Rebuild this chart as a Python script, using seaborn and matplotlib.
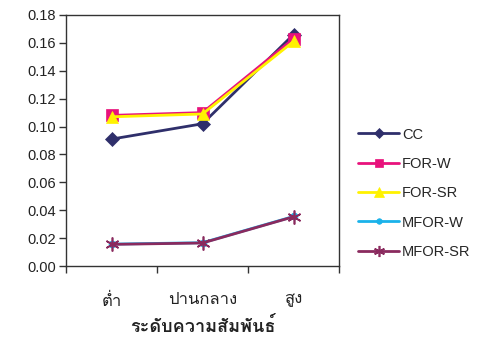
import numpy as np
import pandas as pd
import matplotlib
matplotlib.use("Agg")
import matplotlib.pyplot as plt
from matplotlib import font_manager
from matplotlib.ft2font import FT2Font
from matplotlib.ticker import FixedLocator, NullFormatter
import seaborn as sns

levels = ["ต่ำ", "ปานกลาง", "สูง"]
series_names = ["CC", "FOR-W", "FOR-SR", "MFOR-W", "MFOR-SR"]
cc = [0.091, 0.102, 0.166]
for_w = [0.108, 0.110, 0.163]
for_sr = [0.107, 0.109, 0.161]
mfor_w = [0.0157, 0.0167, 0.0355]
mfor_sr = [0.0155, 0.0165, 0.0353]
yticks = [0.00, 0.02, 0.04, 0.06, 0.08, 0.10, 0.12, 0.14, 0.16, 0.18]
xlabel = "ระดับความสัมพันธ์"

values = [cc, for_w, for_sr, mfor_w, mfor_sr]
df = pd.DataFrame({
    "level": [i for _ in series_names for i in range(len(levels))],
    "value": [v for vals in values for v in vals],
    "series": [s for s in series_names for _ in levels],
})

# pick an installed family that can draw Thai script
def thai_family():
    seen = set()
    for f in font_manager.fontManager.ttflist:
        if f.name in seen:
            continue
        seen.add(f.name)
        try:
            if 0x0E01 in FT2Font(f.fname).get_charmap():
                return f.name
        except Exception:
            pass
    return "DejaVu Sans"

sns.set_theme(style="white")
thai = thai_family()
plt.rcParams["font.family"] = ["Liberation Sans", thai, "DejaVu Sans"]

palette = {"CC": "#2F2F6B", "FOR-W": "#E8127C", "FOR-SR": "#FFF200",
           "MFOR-W": "#1AB2EA", "MFOR-SR": "#8A2A5E"}
markers = {"CC": "D", "FOR-W": "s", "FOR-SR": "^", "MFOR-W": "o", "MFOR-SR": (6, 2, 0)}
sizes = {"CC": 7, "FOR-W": 8, "FOR-SR": 9, "MFOR-W": 5, "MFOR-SR": 10}

fig = plt.figure(figsize=(4.92, 3.40), dpi=100)
ax = fig.add_axes([66 / 492, 74 / 340, 273 / 492, 251 / 340])

for name in series_names:
    sub = df[df["series"] == name]
    sns.lineplot(data=sub, x="level", y="value", ax=ax, color=palette[name],
                 marker=markers[name], markersize=sizes[name], linewidth=2,
                 markeredgecolor=palette[name], markeredgewidth=1.2 if name == "MFOR-SR" else 0.5,
                 label=name, legend=True)

ax.set_xlim(-0.5, 2.5)
ax.set_ylim(0, 0.18)
ax.set_yticks(yticks)
ax.set_yticklabels([f"{t:.2f}" for t in yticks], fontsize=10.5, color="#222222")
ax.xaxis.set_major_locator(FixedLocator([-0.5, 0.5, 1.5, 2.5]))
ax.xaxis.set_major_formatter(NullFormatter())
ax.xaxis.set_minor_locator(FixedLocator(range(len(levels))))
ax.set_xticklabels(levels, minor=True, fontsize=12, color="#222222")
ax.tick_params(axis="x", which="major", direction="out", length=5, width=1, color="#333333", bottom=True)
ax.tick_params(axis="x", which="minor", length=0, pad=19)
ax.tick_params(axis="y", direction="out", length=5, width=1, color="#333333", left=True, pad=2)
for sp in ax.spines.values():
    sp.set_color("#333333")
    sp.set_linewidth(1)
ax.set_xlabel(xlabel, fontsize=13, fontweight="bold", labelpad=6, color="#222222")
ax.set_ylabel("")

leg = ax.legend(loc="center left", bbox_to_anchor=(1.05, 0.29), frameon=False,
                fontsize=10.5, handlelength=2.8, labelspacing=1.05, handletextpad=0.2,
                borderaxespad=0, markerscale=0.8)

fig.savefig("out.png", dpi=100)
